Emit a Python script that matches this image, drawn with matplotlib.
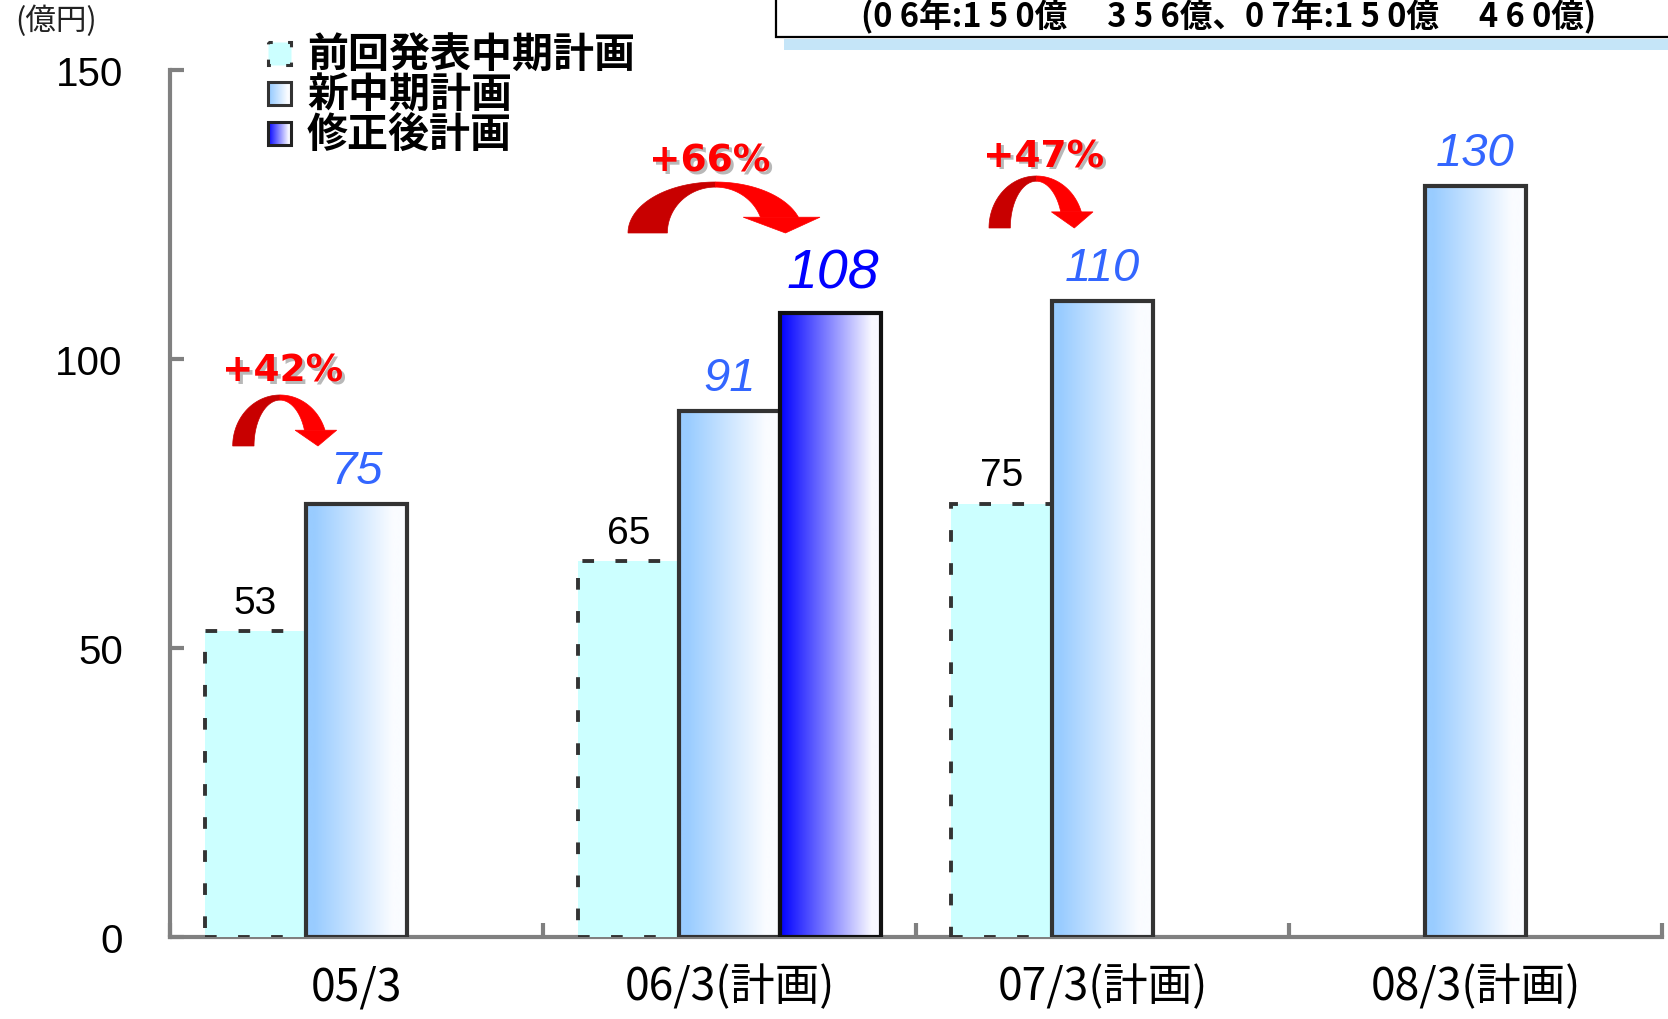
import numpy as np
import matplotlib
matplotlib.use('Agg')
import matplotlib.pyplot as plt
from matplotlib.patches import Rectangle, Polygon
from matplotlib.colors import to_rgb

# ---------------- data ----------------
categories = ['05/3', '06/3(計画)', '07/3(計画)', '08/3(計画)']
prev_plan = [53, 65, 75, np.nan]          # 前回発表中期計画
new_plan = [75, 91, 110, 130]             # 新中期計画
revised_plan = [np.nan, 108, np.nan, np.nan]  # 修正後計画
series_names = ['前回発表中期計画', '新中期計画', '修正後計画']
growth_labels = ['+42%', '+66%', '+47%']
yticks = [0, 50, 100, 150]
unit_label = '(億円)'
note_text = '(0 6年:1 5 0億　 3 5 6億、0 7年:1 5 0億　 4 6 0億)'

JP = ['Noto Sans CJK JP', 'DejaVu Sans']
LAT = ['Liberation Sans', 'DejaVu Sans']

FW, FH = 1668, 1020
fig = plt.figure(figsize=(FW / 100, FH / 100), dpi=100)
ax = fig.add_axes([170 / FW, 1 - 938 / FH, (1662 - 170) / FW, (938 - 71) / FH])

W = 0.271
offsets = [-W, 0.0, W]
x = np.arange(len(categories))


def gradient(c1, c2, t0, t1):
    t = np.linspace(0, 1, 256)
    s = np.clip((t - t0) / (t1 - t0), 0, 1)
    a = np.array(to_rgb(c1))
    b = np.array(to_rgb(c2))
    img = a[None, :] * (1 - s[:, None]) + b[None, :] * s[:, None]
    return img[None, :, :]


grad_new = gradient('#99ccff', '#fafcff', 0.08, 0.85)
grad_rev = gradient('#0000ff', '#f8f8ff', 0.0, 0.9)

# series 0: dotted light cyan
ax.bar(x + offsets[0], prev_plan, W, color='#ccffff', edgecolor='#333333',
       linewidth=2.8, linestyle=(0, (3, 5.5)), zorder=3)

# series 1 and 2: gradient bars
for vals, off, img, ec in [(new_plan, offsets[1], grad_new, '#333333'),
                           (revised_plan, offsets[2], grad_rev, '#111111')]:
    bars = ax.bar(x + off, vals, W, facecolor='none', edgecolor=ec,
                  linewidth=3, zorder=4, joinstyle='miter')
    for b in bars:
        h = b.get_height()
        if not np.isfinite(h):
            continue
        im = ax.imshow(img, extent=[b.get_x(), b.get_x() + b.get_width(), 0, h],
                       aspect='auto', zorder=3, interpolation='bilinear')
        im.set_clip_path(b)

# value labels
for xi, v in zip(x, prev_plan):
    if np.isfinite(v):
        ax.annotate(f'{v:g}', (xi + offsets[0], v), xytext=(0, 13), textcoords='offset points',
                    ha='center', va='baseline', fontsize=28, family=LAT, color='black',
                    annotation_clip=False)
for xi, v in zip(x, new_plan):
    ax.annotate(f'{v:g}', (xi + offsets[1], v), xytext=(0, 15), textcoords='offset points',
                ha='center', va='baseline', fontsize=34, family=LAT, style='italic',
                color='#3366ff', annotation_clip=False)
for xi, v in zip(x, revised_plan):
    if np.isfinite(v):
        ax.annotate(f'{v:g}', (xi + offsets[2], v), xytext=(2, 18), textcoords='offset points',
                    ha='center', va='baseline', fontsize=40, family=LAT, style='italic',
                    color='#0000ff', annotation_clip=False)

ax.set_xlim(-0.5, len(categories) - 0.5)
ax.set_ylim(0, 150)
for s in ['top', 'right']:
    ax.spines[s].set_visible(False)
for s in ['left', 'bottom']:
    ax.spines[s].set_color('#808080')
    ax.spines[s].set_linewidth(3)

ax.set_yticks(yticks)
ax.set_yticklabels([str(t) for t in yticks], fontsize=29, family=LAT)
ax.tick_params(axis='y', direction='in', length=10, width=3, color='#808080', pad=34)
ax.set_xticks(x)
ax.set_xticklabels(categories, fontsize=32, family=JP)
ax.tick_params(axis='x', which='major', length=0, pad=19)
ax.set_xticks(np.arange(-0.5, len(categories), 1.0), minor=True)
ax.tick_params(axis='x', which='minor', direction='in', length=10, width=3, color='#808080')
ax.patch.set_alpha(0)

# ---------------- overlay (pixel coordinates) ----------------
ov = fig.add_axes([0, 0, 1, 1], zorder=5)
ov.patch.set_alpha(0)
ov.axis('off')

# legend
rows_y = [54, 94, 134]
mx0, ms = 268, 23
ov.add_patch(Rectangle((mx0, rows_y[0] - ms / 2), ms, ms, facecolor='#ccffff',
                       edgecolor='#333333', linewidth=2.2, linestyle=(1.3, (2.7, 5))))
for ry, img, ec in [(rows_y[1], grad_new, '#333333'), (rows_y[2], grad_rev, '#222222')]:
    r = Rectangle((mx0, ry - ms / 2), ms, ms, facecolor='none', edgecolor=ec, linewidth=2.2, zorder=3)
    ov.add_patch(r)
    im = ov.imshow(img, extent=[mx0, mx0 + ms, ry + ms / 2, ry - ms / 2], aspect='auto',
                   interpolation='bilinear', zorder=2)
    im.set_clip_path(r)
for ry, name in zip(rows_y, series_names):
    ov.text(307, ry + 1, name, fontsize=29.5, fontweight='bold', family=JP, va='center', ha='left')


# curved arrows
def curved_arrow(left, bottom, Wd, H):
    cx = left + 0.455 * Wd
    rxo, ryo = 0.455 * Wd, H
    rxi, ryi = 0.25 * Wd, 0.9 * H
    te_o = np.degrees(np.arcsin(0.31))
    te_i = np.degrees(np.arcsin(0.31 / 0.9))

    def arc(rx, ry, a0, a1, n=60):
        t = np.radians(np.linspace(a0, a1, n))
        return np.column_stack([cx + rx * np.cos(t), bottom - ry * np.sin(t)])

    dark = np.vstack([arc(rxo, ryo, 180, 90), arc(rxi, ryi, 90, 180)])
    red = np.vstack([arc(rxo, ryo, 90, te_o), arc(rxi, ryi, te_i, 90)])
    ov.add_patch(Polygon(dark, closed=True, facecolor='#c80000', edgecolor='#c80000', lw=0.5))
    ov.add_patch(Polygon(red, closed=True, facecolor='#ff0000', edgecolor='#ff0000', lw=0.5))
    hy = bottom - 0.31 * H
    head = [(left + 0.6 * Wd, hy), (left + Wd, hy), (left + 0.82 * Wd, bottom)]
    ov.add_patch(Polygon(head, closed=True, facecolor='#ff0000', edgecolor='#ff0000', lw=0.5))


arrows = [(232.7, 447, 104, 51), (628, 234, 192, 51), (989, 229, 104, 52)]
for a in arrows:
    curved_arrow(*a)

pct_pos = [(283, 382), (710, 172), (1044, 167)]
PCT = ['DejaVu Sans']
for (px, py), lab in zip(pct_pos, growth_labels):
    ov.text(px + 2.5, py + 2.5, lab, fontsize=27, fontweight='bold', family=PCT,
            color='#b8b8b8', ha='center', va='baseline')
    ov.text(px, py, lab, fontsize=27, fontweight='bold', family=PCT,
            color='#ff0000', ha='center', va='baseline')

# top note box
ov.add_patch(Rectangle((784, 40), 900, 11, facecolor='#c5e5f8', edgecolor='none'))
ov.add_patch(Rectangle((776, -10), 1000, 48, facecolor='white', edgecolor='black', linewidth=1.6))
ov.text(1229, 27, note_text, fontsize=23.5, family=JP, fontweight='bold',
        ha='center', va='baseline')

# unit label
ov.text(56, 21, unit_label, fontsize=22, family=JP, ha='center', va='center', color='#222222')

ov.set_xlim(0, FW)
ov.set_ylim(FH, 0)

fig.savefig('out.png', dpi=100)
